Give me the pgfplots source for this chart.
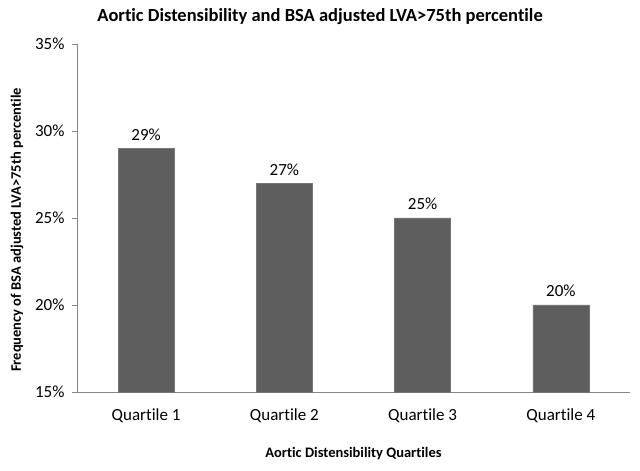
\documentclass[border=0pt]{standalone}
\usepackage{fontspec}
\setmainfont{Carlito}[Ligatures=NoCommon]
\usepackage{pgfplots}
\pgfplotsset{compat=1.18}
\definecolor{barfill}{HTML}{5E5E5E}
\definecolor{axgray}{HTML}{868686}
\begin{document}
\begin{tikzpicture}
\begin{axis}[
  name=ax,
  scale only axis,
  width=553pt, height=348pt,
  ybar, bar width=56pt,
  xmin=-0.5, xmax=3.5,
  ymin=15, ymax=35,
  axis lines*=left,
  axis line style={axgray, line width=0.8pt},
  xtick={0,1,2,3},
  xticklabels={Quartile 1,Quartile 2,Quartile 3,Quartile 4},
  major x tick style={draw=none},
  extra x ticks={-0.5,0.5,1.5,2.5,3.5},
  extra x tick labels={},
  extra x tick style={tick style={axgray, line width=0.8pt}, major tick length=5pt, tick align=outside},
  ytick={15,20,25,30,35},
  yticklabels={15\%,20\%,25\%,30\%,35\%},
  major y tick style={axgray, line width=0.8pt},
  major tick length=5pt,
  tick align=outside,
  /pgf/number format/assume math mode=true,
  ticklabel style={font=\fontsize{17}{20}\selectfont},
  xticklabel style={yshift=-8pt},
  yticklabel style={xshift=-4pt},
  xlabel={Aortic Distensibility Quartiles},
  xlabel style={font=\fontsize{14.5}{17}\selectfont\bfseries, at={(axis description cs:0.5,-0.178)}, anchor=center},
  ylabel={Frequency of BSA adjusted LVA>75th percentile},
  ylabel style={font=\fontsize{14.5}{17}\selectfont\bfseries, at={(axis description cs:-0.1085,0.4655)}, anchor=center},
  nodes near coords={\pgfmathprintnumber{\pgfplotspointmeta}\%},
  nodes near coords style={font=\fontsize{17}{20}\selectfont, yshift=4.5pt},
  clip=false,
]
\addplot[fill=barfill, draw=barfill!85!white] coordinates {(0,29) (1,27) (2,25) (3,20)};
\end{axis}
\node[font=\fontsize{18.5}{22}\selectfont\bfseries] at ([xshift=243pt,yshift=27pt]ax.north west) {Aortic Distensibility and BSA adjusted LVA>75th percentile};
\pgfresetboundingbox
\path[use as bounding box] ([xshift=-77pt,yshift=44pt]ax.north west) rectangle ([xshift=10pt,yshift=-79pt]ax.south east);
\end{tikzpicture}
\end{document}
